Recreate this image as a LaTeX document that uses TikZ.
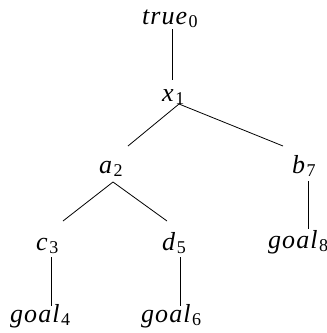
\documentclass[tikz,border=0pt]{standalone}
\usepackage{fontspec}
\setmainfont[LetterSpace=4]{Liberation Serif}
\usetikzlibrary{positioning,calc}

\newcommand{\lbl}[2]{\textit{#1}\kern0.5pt\raisebox{-3pt}{\fontsize{18}{18}\selectfont #2}}

\begin{document}
\begin{tikzpicture}[
    x=1pt, y=-1pt,
    lit/.style={inner sep=0pt, anchor=base west, font=\fontsize{26}{30}\selectfont},
    edge/.style={line width=0.8pt}
]
\useasboundingbox (0,0) rectangle (327,333);
\node[lit] (t0) at (142,24) {\lbl{true}{0}};
\node[lit] (x1) at (162,101) {\lbl{x}{1}};
\node[lit] (a2) at (99,173) {\lbl{a}{2}};
\node[lit] (b7) at (292,173) {\lbl{b}{7}};
\node[lit] (c3) at (36,250) {\lbl{c}{3}};
\node[lit] (d5) at (162,250) {\lbl{d}{5}};
\node[lit] (g4) at (10,322) {\lbl{goal}{4}};
\node[lit] (g6) at (141,322) {\lbl{goal}{6}};
\node[lit] (g8) at (268,248) {\lbl{goal}{8}};

% tree edges
\draw[edge] ([shift={(30,5)}]t0.base west) -- ([shift={(10,-21)}]x1.base west);
\draw[edge] ([shift={(17,3)}]x1.base west) -- ([shift={(29,-27)}]a2.base west);
\draw[edge] ([shift={(17,3)}]x1.base west) -- ([shift={(-9,-27)}]b7.base west);
\draw[edge] ([shift={(14,9)}]a2.base west) -- ([shift={(27,-29)}]c3.base west);
\draw[edge] ([shift={(14,9)}]a2.base west) -- ([shift={(5,-29)}]d5.base west);
\draw[edge] ([shift={(15,7)}]c3.base west) -- ([shift={(41,-16)}]g4.base west);
\draw[edge] ([shift={(18,7)}]d5.base west) -- ([shift={(39,-16)}]g6.base west);
\draw[edge] ([shift={(16,8)}]b7.base west) -- ([shift={(40,-19)}]g8.base west);
\end{tikzpicture}
\end{document}
